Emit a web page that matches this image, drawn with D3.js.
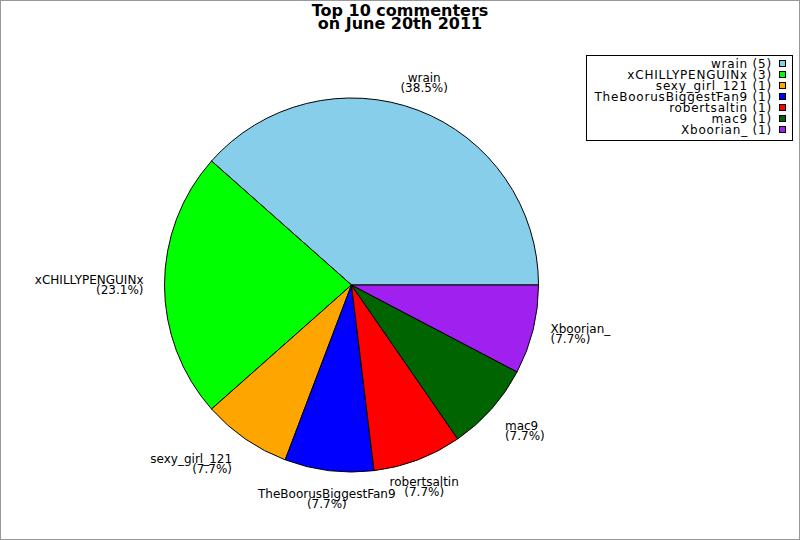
<!DOCTYPE html>
<html>
<head>
<meta charset="utf-8">
<script src="https://cdn.jsdelivr.net/npm/d3@7"></script>
<style>
  body { margin: 0; background: #fff; }
  svg text { font-family: "DejaVu Sans", sans-serif; }
</style>
</head>
<body>
<svg id="chart" width="800" height="540"></svg>
<script>
// commenters and how many comments each left
let names = ["wrain", "xCHILLYPENGUINx", "sexy_girl_121", "TheBoorusBiggestFan9", "robertsaltin", "mac9", "Xboorian_"];
let counts = [5, 3, 1, 1, 1, 1, 1];
let colors = ["#87ceeb", "#00ff00", "#ffa500", "#0000ff", "#ff0000", "#006400", "#a020f0"];
let titleLines = ["Top 10 commenters", "on June 20th 2011"];

let svg = d3.select("#chart");
let width = 800, height = 540;
let cx = 351.5, cy = 285, radius = 187;
let labelRadius = 205;
let lineH = 10;

// frame round the whole picture
svg.append("rect")
    .attr("x", 0.5).attr("y", 0.5)
    .attr("width", width - 1).attr("height", height - 1)
    .attr("fill", "#fff").attr("stroke", "#999");

// title
svg.selectAll("text.title")
    .data(titleLines)
    .enter().append("text")
    .attr("class", "title")
    .attr("x", 400)
    .attr("y", (d, i) => 16 + i * 12.5)
    .attr("text-anchor", "middle")
    .style("font-size", "16px")
    .style("font-weight", "bold")
    .text(d => d);

let total = d3.sum(counts);
let data = names.map((n, i) => ({ name: n, count: counts[i], color: colors[i] }));

// slices start at 3 o'clock and run counter-clockwise
let pie = d3.pie()
    .sort(null)
    .value(d => d.count)
    .startAngle(Math.PI / 2)
    .endAngle(Math.PI / 2 - 2 * Math.PI);

let arc = d3.arc().innerRadius(0).outerRadius(radius);
let arcs = pie(data);

let g = svg.append("g").attr("transform", "translate(" + cx + "," + cy + ")");

g.selectAll("path.slice")
    .data(arcs)
    .enter().append("path")
    .attr("class", "slice")
    .attr("d", arc)
    .attr("fill", d => d.data.color)
    .attr("stroke", "#000")
    .attr("stroke-width", 1);

// labels round the pie
let fmt = d3.format(".1f");
arcs.forEach(function(d) {
    let a = (d.startAngle + d.endAngle) / 2;
    let sx = Math.sin(a), sy = -Math.cos(a);
    let x = labelRadius * sx, y = labelRadius * sy;
    let anchor = "middle";
    if (sx > 0.5) anchor = "start";
    else if (sx < -0.5) { anchor = "end"; x -= 3; }
    let lines = [d.data.name, "(" + fmt(d.data.count / total * 100) + "%)"];
    let blockH = lines.length * lineH;
    let top;
    if (sy > 0.5) top = y;
    else if (sy < -0.5) top = y - blockH;
    else top = y - blockH / 2;
    g.selectAll(null)
        .data(lines)
        .enter().append("text")
        .attr("x", x)
        .attr("y", (t, i) => top + i * lineH + 9)
        .attr("text-anchor", anchor)
        .style("font-size", "12px")
        .text(t => t);
});

// legend
let legX = 586, legY = 55, legW = 206, legH = 85;
let legend = svg.append("g");
legend.append("rect")
    .attr("x", legX + 0.5).attr("y", legY + 0.5)
    .attr("width", legW).attr("height", legH)
    .attr("fill", "#fff").attr("stroke", "#000");

let rows = legend.selectAll("g.row")
    .data(data)
    .enter().append("g")
    .attr("class", "row")
    .attr("transform", (d, i) => "translate(0," + (64 + i * 11) + ")");

rows.append("text")
    .attr("x", 772)
    .attr("y", 4)
    .attr("text-anchor", "end")
    .style("font-size", "12px")
    .style("letter-spacing", "0.8px")
    .text(d => d.name + " (" + d.count + ")");

rows.append("rect")
    .attr("x", 779.5).attr("y", -3.5)
    .attr("width", 6).attr("height", 6)
    .attr("fill", d => d.color)
    .attr("stroke", "#000");
</script>
</body>
</html>
